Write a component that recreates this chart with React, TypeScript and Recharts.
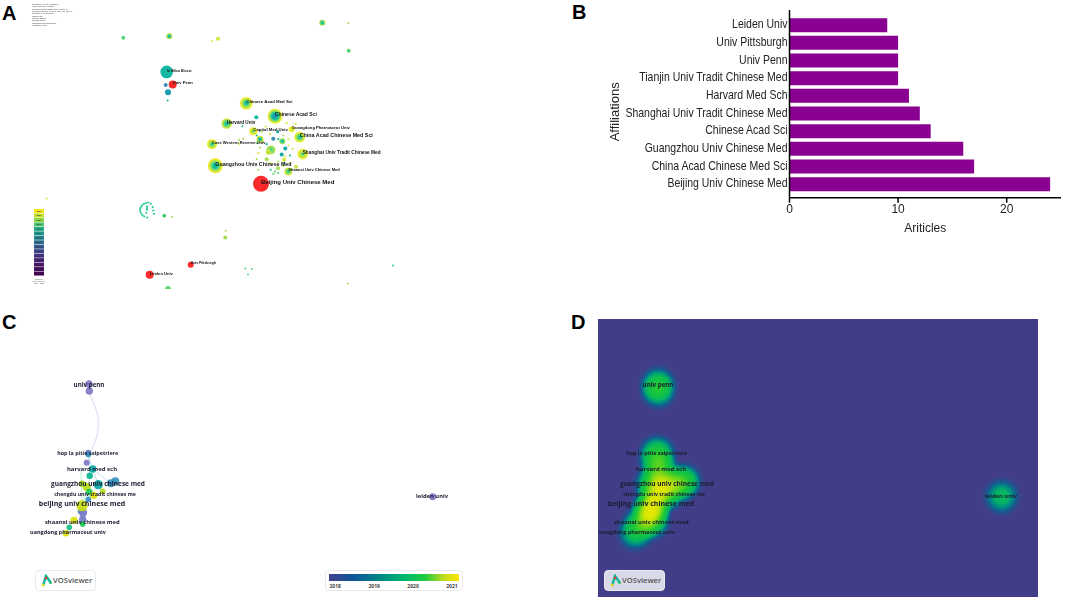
import React from "react";
import {
  Bar,
  BarChart,
  Cell,
  LabelList,
  ReferenceArea,
  Scatter,
  ScatterChart,
  XAxis,
  YAxis,
} from "recharts";

// ---- panel B: articles per affiliation
const affiliations = [
  "Leiden Univ",
  "Univ Pittsburgh",
  "Univ Penn",
  "Tianjin Univ Tradit Chinese Med",
  "Harvard Med Sch",
  "Shanghai Univ Tradit Chinese Med",
  "Chinese Acad Sci",
  "Guangzhou Univ Chinese Med",
  "China Acad Chinese Med Sci",
  "Beijing Univ Chinese Med",
];
const articles = [9, 10, 10, 10, 11, 12, 13, 16, 17, 24];
const affiliationRows = affiliations.map((name, i) => ({ name, articles: articles[i] }));

// ---- panel A: co-occurrence map, [x, y, frequency, first year, last year]
const citeLabelled = [
  { name: "In Silico Biosci", at: [166.7, 72, 15, 2017, 2017] },
  { name: "Univ Penn", at: [172.7, 84.7, 6, 0, 0] },
  { name: "Chinese Acad Med Sci", at: [246.3, 103.3, 15, 2017, 2022] },
  { name: "Chinese Acad Sci", at: [275, 116.3, 21, 2014, 2022] },
  { name: "Harvard Univ", at: [226.7, 123.7, 10.5, 2017, 2021] },
  { name: "Capital Med Univ", at: [253.3, 131.3, 6, 2019, 2022] },
  { name: "Guangdong Pharmaceut Univ", at: [291.7, 129.3, 3.4, 2021, 2022] },
  { name: "China Acad Chinese Med Sci", at: [299.7, 137.3, 11, 2017, 2022] },
  { name: "Case Western Reserve Univ", at: [212, 144.3, 9.4, 2018, 2022] },
  { name: "Shanghai Univ Tradit Chinese Med", at: [302.7, 154.3, 10.5, 2019, 2022] },
  { name: "Guangzhou Univ Chinese Med", at: [215.3, 166, 21, 2016, 2022] },
  { name: "Shaanxi Univ Chinese Med", at: [288.3, 171.7, 6, 2018, 2021] },
  { name: "Beijing Univ Chinese Med", at: [261, 184, 24, 0, 0] },
  { name: "Univ Pittsburgh", at: [190.7, 265, 3.4, 0, 0] },
  { name: "Leiden Univ", at: [149.7, 275, 6, 0, 0] },
];
const citeMinor = [
  [322.3, 22.7, 3.4, 2017, 2020],
  [348.3, 23, 0.38, 2020, 2020],
  [348.7, 50.7, 1.5, 2017, 2020],
  [123.3, 37.7, 1.5, 2019, 2019],
  [169.3, 36.3, 3.4, 2016, 2021],
  [218, 38.7, 1.5, 2021, 2021],
  [212, 41, 0.38, 2021, 2021],
  [165.7, 85, 1.5, 2014, 2014],
  [168, 92.3, 3.4, 2015, 2015],
  [167.7, 100.7, 0.38, 2017, 2017],
  [256.3, 117.3, 1.5, 2017, 2017],
  [242.3, 126.3, 0.38, 2017, 2017],
  [260, 139.3, 4.6, 2015, 2022],
  [273.3, 139, 1.5, 2014, 2014],
  [277.7, 132, 0.85, 2016, 2016],
  [282.3, 141.3, 3.4, 2017, 2020],
  [285.3, 148.7, 1.5, 2016, 2016],
  [281.7, 154.7, 1.5, 2016, 2016],
  [271, 150, 7.5, 2019, 2020],
  [268.3, 152.3, 2.4, 2020, 2021],
  [266.7, 159.3, 1.5, 2020, 2020],
  [278, 168.3, 1.5, 2020, 2020],
  [284, 160, 1.5, 2021, 2021],
  [296, 167, 1.5, 2020, 2021],
  [164.3, 216, 1.5, 2016, 2020],
  [172, 217.3, 0.38, 2020, 2020],
  [46.7, 198.7, 0.38, 2021, 2021],
  [225.7, 231, 0.38, 2020, 2020],
  [225.3, 237.7, 1.5, 2020, 2020],
  [245.3, 268.7, 0.38, 2019, 2019],
  [251.7, 269.3, 0.38, 2019, 2019],
  [248, 274.7, 0.38, 2019, 2019],
  [393, 265.7, 0.38, 2018, 2018],
  [347.7, 283.7, 0.38, 2020, 2020],
  [168, 289.3, 3.4, 2019, 2019],
];
// tiny nodes: [x, y, year]
const citeCluster = [
  [286.7, 123.3, 2021], [295.7, 124, 2021], [265.7, 126.7, 2021], [261.7, 131.7, 2020],
  [270, 134.3, 2021], [278.3, 139.3, 2017], [283.3, 135.7, 2020], [288.3, 139.3, 2021],
  [256.7, 135.7, 2017], [263.3, 141.7, 2020], [239, 140, 2020], [243.3, 139, 2020],
  [239, 144, 2021], [256.7, 143.3, 2019], [260, 147.7, 2020], [266.7, 144.3, 2016],
  [288.3, 145.7, 2021], [292.7, 149, 2021], [290, 155.7, 2017], [258.3, 153.3, 2021],
  [256.7, 159.3, 2020], [270, 163.3, 2021], [278.3, 161.7, 2020], [283.3, 166, 2021],
  [258.3, 170, 2020], [273.3, 174, 2019], [278.3, 173.3, 2019], [270.7, 170, 2018],
  [275, 171.7, 2019], [284.3, 163.3, 2017], [290, 163.3, 2020], [285, 156.7, 2021],
  // the ring on the lower left
  [148.3, 202.7, 2018], [146, 203.2, 2018], [144, 204, 2018], [142.4, 205.2, 2018],
  [141.3, 206.7, 2018], [140.4, 208.3, 2018], [140, 210, 2018], [140.4, 212, 2018],
  [141.3, 214, 2018], [142.6, 215.5, 2018], [144.3, 216.7, 2018], [150.7, 204, 2018],
  [152.7, 207.3, 2018], [147, 206.7, 2018], [147, 208.3, 2018], [147, 210, 2018],
  [146.3, 213, 2018], [153.3, 210.7, 2018], [147.3, 217.7, 2018], [154, 214, 2018],
];
const citeYears = [2022, 2021, 2020, 2019, 2018, 2017, 2016, 2015, 2014, 2013, 2012, 2011, 2010, 2009, 2008];
const citeHeader = [
  "CiteSpace (64-bit) Advanced",
  "Web of Science records",
  "Timespan: 2008-2022 (Slice Length=1)",
  "Selection Criteria: g-index, LRF, L/N, LBY, e",
  "Network: N, E (Density)",
  "Largest CC",
  "Nodes Labeled",
  "Pruning: None",
  "Weighted Mean Silhouette",
  "Harmonic Mean",
];

// ---- panels C and D: VOSviewer map, [x, y, documents, mean year]
const vosNodes = [
  [89, 384, 10, 2018],
  [89.3, 391, 10, 2018],
  [88.3, 452.7, 7, 2018],
  [88.3, 454.3, 7, 2018.8],
  [86.7, 462.7, 7, 2018],
  [92.7, 469, 10, 2019.4],
  [89.7, 475.7, 8, 2019.6],
  [111, 483.3, 12, 2018.7],
  [115.3, 481.3, 12, 2018.8],
  [98.3, 484.7, 16, 2019.4],
  [82, 483.7, 8, 2020.6],
  [86.7, 487, 13, 2020.7],
  [89.3, 492, 8, 2020.2],
  [102.7, 491.3, 6, 2020.7],
  [93.7, 495.3, 10, 2020.9],
  [88.3, 499.3, 6, 2018.7],
  [81, 511, 8, 2018.6],
  [83, 512.7, 13, 2018.1],
  [82, 505.7, 24, 2020.8],
  [82.7, 519.3, 10, 2018.1],
  [74, 520.3, 10, 2020.9],
  [82.7, 524, 6, 2020.2],
  [69.3, 527.3, 6, 2019.8],
  [66, 533.3, 8, 2020.9],
  [432.7, 496.7, 9, 2018],
];
const vosLabels = [
  { name: "univ penn", x: 89, y: 385 },
  { name: "hop la pitie salpetriere", x: 87.7, y: 453.3 },
  { name: "harvard med sch", x: 92, y: 469 },
  { name: "guangzhou univ chinese med", x: 98, y: 484.7 },
  { name: "chengdu univ tradit chinese me", x: 95, y: 494.7 },
  { name: "beijing univ chinese med", x: 82, y: 504.3 },
  { name: "shaanxi univ chinese med", x: 82.3, y: 522.7 },
  { name: "uangdong pharmaceut univ", x: 68, y: 532.7 },
  { name: "leiden univ", x: 432, y: 496.3 },
];
const vosLinks = [
  { year: 2018, points: [[89.3, 393], [95, 406.7], [98.3, 420], [96.7, 436.7], [90.7, 451.7]] },
  { year: 2019, points: [[88.3, 454], [92.7, 469], [98.3, 484.7]] },
  { year: 2019, points: [[92.7, 469], [111, 483.3]] },
  { year: 2019, points: [[88.3, 454], [89.7, 475.7]] },
  { year: 2020, points: [[81, 470], [82, 505.7]] },
  { year: 2020, points: [[92.7, 469], [82, 505.7]] },
  { year: 2020, points: [[98.3, 484.7], [82, 505.7]] },
  { year: 2020.8, points: [[82, 505.7], [66, 533.3]] },
];
const vosTicks = [2018, 2019, 2020, 2021];

// legend strip of panel A, and the slightly brighter tints its nodes are drawn in
const citeColors = [
  "#f3e81e", "#c3e02b", "#8fd744", "#4ec46e", "#25ab82", "#1f968b", "#23808e", "#2a6e8e",
  "#31598c", "#3a4587", "#43327f", "#482373", "#481667", "#470d60", "#440154",
];
const citeNodeColors = [
  "#f2ec2c", "#d2e83c", "#a4e056", "#5cd87c", "#22cc92", "#14b8a2", "#10a8a8", "#1c9cb0",
  "#3a8cb8", "#4a70b8", "#6a5cb8", "#6a48a8", "#5c3898", "#502888", "#481878",
];
const burstRed = "#fb2b2b";
const vosStops: [number, string][] = [
  [2018, "#7d75c6"],
  [2018.7, "#3a8fc0"],
  [2019.4, "#0aa8a8"],
  [2019.8, "#10c080"],
  [2020.2, "#18c850"],
  [2020.6, "#a0dc20"],
  [2021, "#f2e000"],
];
const armFont = "'Liberation Sans', Arial, sans-serif";
const vosFont = "'Open Sans', sans-serif";

const citeLabelSize: Record<string, number> = {
  "In Silico Biosci": 3.5,
  "Univ Penn": 4.1,
  "Chinese Acad Med Sci": 4.35,
  "Chinese Acad Sci": 5,
  "Harvard Univ": 4.6,
  "Capital Med Univ": 4.3,
  "Guangdong Pharmaceut Univ": 4.15,
  "China Acad Chinese Med Sci": 5.35,
  "Case Western Reserve Univ": 4.05,
  "Shanghai Univ Tradit Chinese Med": 4.75,
  "Guangzhou Univ Chinese Med": 5.3,
  "Shaanxi Univ Chinese Med": 4.05,
  "Beijing Univ Chinese Med": 6,
  "Univ Pittsburgh": 3.4,
  "Leiden Univ": 4.1,
};
const vosLabelSize: Record<string, number> = {
  "univ penn": 6.2,
  "hop la pitie salpetriere": 5.4,
  "harvard med sch": 6,
  "guangzhou univ chinese med": 6.5,
  "chengdu univ tradit chinese me": 5.2,
  "beijing univ chinese med": 7,
  "shaanxi univ chinese med": 5.8,
  "uangdong pharmaceut univ": 5.5,
  "leiden univ": 5.8,
};

const toCite = (a: number[], name?: string) => ({
  name, x: a[0], y: a[1], freq: a[2], from: a[3], to: a[4],
});
const citeNodes = [
  ...citeCluster.map((d) => toCite([d[0], d[1], 0.42, d[2], d[2]])),
  ...citeMinor.map((d) => toCite(d)),
  ...citeLabelled.map((d) => toCite(d.at, d.name)),
];
const vosPoints = vosNodes.map((d) => ({ x: d[0], y: d[1], weight: d[2], year: d[3] }));

function mix(a: string, b: string, t: number) {
  const ch = (s: string, i: number) => parseInt(s.slice(1 + i * 2, 3 + i * 2), 16);
  const out = [0, 1, 2].map((i) => Math.round(ch(a, i) + (ch(b, i) - ch(a, i)) * t));
  return `rgb(${out.join(",")})`;
}
function vosColor(year: number) {
  for (let i = 1; i < vosStops.length; i++) {
    if (year <= vosStops[i][0]) {
      const [y0, c0] = vosStops[i - 1];
      const [y1, c1] = vosStops[i];
      return mix(c0, c1, (year - y0) / (y1 - y0));
    }
  }
  return vosStops[vosStops.length - 1][1];
}

// nested year rings, or a plain red disc for a citation burst
const CiteNode = ({ cx, cy, payload }: any) => {
  const r = Math.sqrt(payload.freq) * 1.63;
  if (!payload.from) return <circle cx={cx} cy={cy} r={r} fill={burstRed} />;
  const years: number[] = [];
  for (let y = payload.to; y >= payload.from; y--) years.push(y);
  return (
    <g>
      {years.map((y, i) => (
        <circle
          key={y}
          cx={cx}
          cy={cy}
          r={(r * (years.length - i)) / years.length}
          fill={citeNodeColors[2022 - y]}
        />
      ))}
    </g>
  );
};
const CiteLabel = ({ cx, cy, payload }: any) =>
  payload.name ? (
    <text
      x={cx}
      y={cy - 1.2}
      fontSize={citeLabelSize[payload.name]}
      fontWeight={700}
      fontFamily={armFont}
      fill="#111"
      dominantBaseline="middle"
    >
      {payload.name}
    </text>
  ) : (
    <g />
  );
const VosNode = ({ cx, cy, payload }: any) => (
  <circle cx={cx} cy={cy} r={Math.sqrt(payload.weight) * 1.15} fill={vosColor(payload.year)} opacity={0.92} />
);
const VosLabel = ({ cx, cy, payload }: any) => (
  <text
    x={cx}
    y={cy}
    fontSize={vosLabelSize[payload.name]}
    fontWeight={700}
    fontFamily={vosFont}
    fill="#1c1c30"
    textAnchor="middle"
    dominantBaseline="middle"
  >
    {payload.name}
  </text>
);
const HeatKernel = ({ cx, cy, payload }: any) => (
  <circle cx={cx} cy={cy} r={21} fill="url(#kernel)" opacity={1 - Math.exp(-0.05 * payload.weight)} />
);
// the labels of panel B are narrower than they are tall in the source picture
const SqueezedTick = ({ x, y, payload }: any) => (
  <text
    transform={`translate(${x},${y}) scale(0.84,1)`}
    textAnchor="end"
    dominantBaseline="middle"
    fontSize={12.5}
    fontFamily={armFont}
    fill="#222"
  >
    {payload.value}
  </text>
);
const AffiliationsLabel = ({ viewBox }: any) => (
  <text
    transform={`translate(49,${viewBox.y + viewBox.height / 2 + 8}) rotate(-90)`}
    textAnchor="middle"
    fontSize={13}
    fontFamily={armFont}
    fill="#222"
  >
    Affiliations
  </text>
);

const noDot = () => <g />;

const VosBadge = ({ left, fill }: { left: number; fill: string }) => (
  <div
    style={{
      position: "absolute",
      left,
      top: 570,
      width: 61,
      height: 21,
      boxSizing: "border-box",
      border: "1px solid #eaeaee",
      borderRadius: 4,
      background: fill,
      fontFamily: vosFont,
      fontWeight: 600,
      fontSize: 7.6,
      color: "#555",
      lineHeight: "19px",
      paddingLeft: 17.5,
    }}
  >
    VOSviewer
    <svg width={13} height={14} style={{ position: "absolute", left: 4.5, top: 3 }}>
      <path d="M3 12 L6 2 L11 9" fill="none" stroke="#18b8a0" strokeWidth={2.6} />
      <circle cx={3} cy={11} r={1.5} fill="#e8e020" />
      <circle cx={6} cy={4} r={1.2} fill="#e83020" />
      <circle cx={10.5} cy={9} r={1.2} fill="#20c860" />
    </svg>
  </div>
);

const PanelLetter = ({ text, left, top }: { text: string; left: number; top: number }) => (
  <span
    style={{
      position: "absolute",
      left,
      top,
      fontFamily: armFont,
      fontWeight: 700,
      fontSize: 20,
      lineHeight: "20px",
      color: "#000",
    }}
  >
    {text}
  </span>
);

function PanelA() {
  return (
    <div style={{ position: "absolute", left: 0, top: 0, filter: "blur(0.3px)" }}>
      <ScatterChart width={400} height={289} margin={{ top: 0, right: 0, bottom: 0, left: 0 }}>
        <XAxis type="number" dataKey="x" domain={[0, 400]} hide />
        <YAxis type="number" dataKey="y" domain={[0, 289]} reversed hide />
        <Scatter data={citeNodes} shape={CiteNode} isAnimationActive={false} />
        <Scatter data={citeNodes} shape={CiteLabel} isAnimationActive={false} />
      </ScatterChart>
      <div
        style={{
          position: "absolute",
          left: 32,
          top: 3,
          fontFamily: armFont,
          fontSize: 2.1,
          lineHeight: "2.35px",
          color: "#333",
          whiteSpace: "nowrap",
        }}
      >
        {citeHeader.map((line) => (
          <div key={line}>{line}</div>
        ))}
      </div>
      <div style={{ position: "absolute", left: 34, top: 209 }}>
        <BarChart
          layout="vertical"
          width={10}
          height={67}
          data={citeYears.map((year) => ({ year: String(year), cell: 1 }))}
          margin={{ top: 0, right: 0, bottom: 0, left: 0 }}
          barCategoryGap={0}
        >
          <XAxis type="number" domain={[0, 1]} hide />
          <YAxis type="category" dataKey="year" hide />
          <Bar dataKey="cell" isAnimationActive={false}>
            {citeYears.map((year, i) => (
              <Cell key={year} fill={citeColors[i]} />
            ))}
            <LabelList dataKey="year" position="center" fontSize={2.6} fill="#222" />
          </Bar>
        </BarChart>
      </div>
      <div
        style={{
          position: "absolute",
          left: 30,
          top: 278,
          width: 18,
          textAlign: "center",
          fontFamily: armFont,
          fontSize: 1.9,
          lineHeight: "2.2px",
          color: "#666",
        }}
      >
        CiteSpace
        <br />
        Web of Science
        <br />
        2008 - 2022
      </div>
    </div>
  );
}

function PanelB() {
  return (
    <div style={{ position: "absolute", left: 570, top: 0, filter: "blur(0.25px)" }}>
      <BarChart
        layout="vertical"
        width={495}
        height={240}
        data={affiliationRows}
        margin={{ top: 10, right: 4, bottom: 0, left: 0 }}
      >
        <XAxis
          type="number"
          domain={[0, 25]}
          ticks={[0, 10, 20]}
          height={42.3}
          tickSize={5}
          tickMargin={2}
          interval={0}
          axisLine={{ stroke: "#000", strokeWidth: 1.5 }}
          tickLine={{ stroke: "#000", strokeWidth: 1.5 }}
          tick={{ fill: "#222", fontSize: 12, fontFamily: armFont }}
          label={{
            value: "Ariticles",
            position: "insideBottom",
            offset: 8,
            fill: "#222",
            fontSize: 12,
            fontFamily: armFont,
          }}
        />
        <YAxis
          type="category"
          dataKey="name"
          width={219.5}
          padding={{ top: 6.2, bottom: 4.9 }}
          interval={0}
          tickSize={0}
          tickMargin={2}
          axisLine={{ stroke: "#000", strokeWidth: 1.5 }}
          tick={SqueezedTick}
          label={{ content: AffiliationsLabel }}
        />
        <Bar dataKey="articles" fill="#8a0090" barSize={14} isAnimationActive={false} />
      </BarChart>
    </div>
  );
}

function PanelC() {
  return (
    <div style={{ position: "absolute", left: 0, top: 310, filter: "blur(0.3px)" }}>
      <ScatterChart width={480} height={292} margin={{ top: 0, right: 0, bottom: 0, left: 0 }}>
        <XAxis type="number" dataKey="x" domain={[0, 480]} hide />
        <YAxis type="number" dataKey="y" domain={[310, 602]} reversed hide />
        {vosLinks.map((link, i) => (
          <Scatter
            key={i}
            data={link.points.map((p) => ({ x: p[0], y: p[1] }))}
            line={{ stroke: vosColor(link.year), strokeOpacity: 0.28, strokeWidth: 1 }}
            lineType="joint"
            lineJointType="natural"
            shape={noDot}
            isAnimationActive={false}
          />
        ))}
        <Scatter data={vosPoints} shape={VosNode} isAnimationActive={false} />
        <Scatter data={vosLabels} shape={VosLabel} isAnimationActive={false} />
      </ScatterChart>
    </div>
  );
}

function VosColorBar() {
  return (
    <>
      <div
        style={{
          position: "absolute",
          left: 325,
          top: 570,
          width: 138,
          height: 21,
          boxSizing: "border-box",
          border: "1px solid #eaeaee",
          borderRadius: 4,
          background: "#fff",
        }}
      />
      <div style={{ position: "absolute", left: 328.7, top: 573.7 }}>
        <ScatterChart width={130} height={20} margin={{ top: 0, right: 0, bottom: 0, left: 0 }}>
          <defs>
            <linearGradient id="vosBar" x1="0" y1="0" x2="1" y2="0">
              <stop offset="0%" stopColor="#43408c" />
              <stop offset="18%" stopColor="#10559a" />
              <stop offset="36%" stopColor="#007f88" />
              <stop offset="58%" stopColor="#00b870" />
              <stop offset="74%" stopColor="#20cc40" />
              <stop offset="88%" stopColor="#c0dc20" />
              <stop offset="100%" stopColor="#ffe600" />
            </linearGradient>
          </defs>
          <XAxis
            type="number"
            dataKey="x"
            domain={[2017.84, 2021.18]}
            ticks={vosTicks}
            interval={0}
            height={13}
            axisLine={false}
            tickSize={0}
            tickMargin={3}
            tick={{ fill: "#444", fontSize: 5, fontWeight: 700, fontFamily: vosFont }}
          />
          <YAxis type="number" dataKey="y" domain={[0, 1]} hide />
          <ReferenceArea x1={2017.84} x2={2021.18} y1={0} y2={1} fill="url(#vosBar)" fillOpacity={1} />
          <Scatter
            data={vosTicks.map((x) => ({ x, y: 0.5 }))}
            shape={noDot}
            isAnimationActive={false}
          />
        </ScatterChart>
      </div>
    </>
  );
}

function PanelD() {
  return (
    <div style={{ position: "absolute", left: 597.7, top: 319, filter: "blur(0.3px)" }}>
      <ScatterChart width={440} height={278} margin={{ top: 0, right: 0, bottom: 0, left: 0 }}>
        <defs>
          <radialGradient id="kernel">
            <stop offset="0%" stopColor="#000" stopOpacity={1} />
            <stop offset="30%" stopColor="#000" stopOpacity={0.85} />
            <stop offset="55%" stopColor="#000" stopOpacity={0.5} />
            <stop offset="80%" stopColor="#000" stopOpacity={0.14} />
            <stop offset="100%" stopColor="#000" stopOpacity={0} />
          </radialGradient>
          <filter
            id="heat"
            filterUnits="userSpaceOnUse"
            x={0}
            y={0}
            width={440}
            height={278}
            colorInterpolationFilters="sRGB"
          >
            <feColorMatrix type="matrix" values="0 0 0 1 0  0 0 0 1 0  0 0 0 1 0  0 0 0 0 1" />
            <feComponentTransfer>
              <feFuncR type="table" tableValues="0.26 0.08 0 0.02 0.05 0.08 0.14 0.30 0.55 0.85 1" />
              <feFuncG type="table" tableValues="0.24 0.36 0.55 0.70 0.75 0.77 0.79 0.82 0.86 0.90 0.92" />
              <feFuncB type="table" tableValues="0.54 0.56 0.52 0.40 0.32 0.26 0.20 0.14 0.08 0.02 0" />
            </feComponentTransfer>
          </filter>
        </defs>
        <style>{`.vos-heat{filter:url(#heat)}`}</style>
        <XAxis type="number" dataKey="x" domain={[29, 469]} hide />
        <YAxis type="number" dataKey="y" domain={[319, 597]} reversed hide />
        <Scatter className="vos-heat" data={vosPoints} shape={HeatKernel} isAnimationActive={false} />
        <Scatter data={vosLabels} shape={VosLabel} isAnimationActive={false} />
      </ScatterChart>
    </div>
  );
}

export default function App() {
  return (
    <div style={{ position: "absolute", left: 0, top: 0, width: 1065, height: 602, background: "#fff", overflow: "hidden" }}>
      <PanelA />
      <PanelB />
      <PanelC />
      <PanelD />
      <VosColorBar />
      <VosBadge left={34.5} fill="#fff" />
      <VosBadge left={603.5} fill="#d9d9e8" />
      <PanelLetter text="A" left={2} top={3} />
      <PanelLetter text="B" left={572} top={2} />
      <PanelLetter text="C" left={2} top={312} />
      <PanelLetter text="D" left={571} top={312} />
    </div>
  );
}
